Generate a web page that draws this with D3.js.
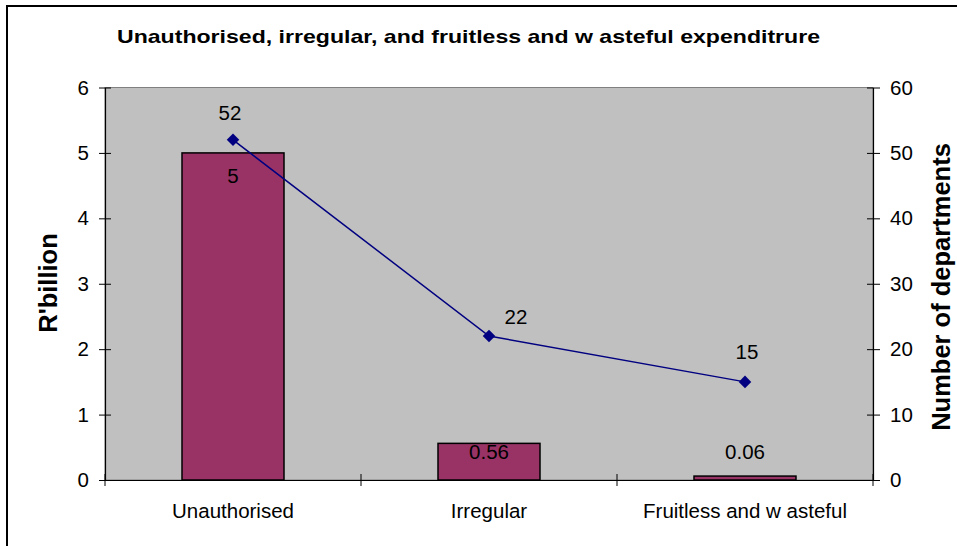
<!DOCTYPE html>
<html><head><meta charset="utf-8">
<script src="https://cdn.jsdelivr.net/npm/d3@7"></script>
<style>body{margin:0;background:#fff}svg{display:block;font-family:Arial,"Liberation Sans",sans-serif}</style>
</head><body>
<svg id="c" width="957" height="546"></svg>
<script>
const categories = ["Unauthorised", "Irregular", "Fruitless and w asteful"];
const amounts = [5, 0.56, 0.06];
const amountLabels = ["5", "0.56", "0.06"];
const departments = [52, 22, 15];
const leftTicks = [0, 1, 2, 3, 4, 5, 6];
const rightTicks = [0, 10, 20, 30, 40, 50, 60];

const FONT = "Arial, 'Liberation Sans', sans-serif";
const svg = d3.select("#c");
const L = 105, R = 873, T = 87.5, B = 480;

svg.append("rect").attr("x", 7).attr("y", 6).attr("width", 1000).attr("height", 600)
  .attr("fill", "#fff").attr("stroke", "#000").attr("stroke-width", 2);

svg.append("text").attr("x", 468.5).attr("y", 43).attr("text-anchor", "middle")
  .attr("font-weight", "bold").attr("font-size", 19).attr("font-family", FONT)
  .text("Unauthorised, irregular, and fruitless and w asteful expenditrure")
  .attr("textLength", 703).attr("lengthAdjust", "spacingAndGlyphs");

const x = d3.scaleBand().domain(categories).range([L, R]).paddingInner(0).paddingOuter(0);
const y = d3.scaleLinear().domain([0, 6]).range([B, T]);
const y2 = d3.scaleLinear().domain([0, 60]).range([B, T]);

svg.append("rect").attr("x", L).attr("y", T).attr("width", R - L).attr("height", B - T)
  .attr("fill", "#C0C0C0").attr("stroke", "#808080").attr("stroke-width", 1);

const bw = 102;
svg.selectAll(".bar").data(categories).enter().append("rect")
  .attr("x", (d) => x(d) + x.bandwidth() / 2 - bw / 2)
  .attr("y", (d, i) => y(amounts[i]))
  .attr("width", bw)
  .attr("height", (d, i) => B - y(amounts[i]))
  .attr("fill", "#993366").attr("stroke", "#000").attr("stroke-width", 1.5);

// axes
const fs = 20.5;
const gl = svg.append("g").attr("transform", `translate(${L},0)`)
  .call(d3.axisLeft(y).tickValues(leftTicks).tickFormat(d3.format("d")).tickSize(6).tickSizeOuter(0).tickPadding(10));
gl.selectAll(".tick line").attr("x2", -6).attr("x1", 6);
const gr = svg.append("g").attr("transform", `translate(${R},0)`)
  .call(d3.axisRight(y2).tickValues(rightTicks).tickFormat(d3.format("d")).tickSize(7).tickSizeOuter(0).tickPadding(10));
gr.selectAll(".tick line").attr("x1", -6);
const gb = svg.append("g").attr("transform", `translate(0,${B})`)
  .call(d3.axisBottom(x).tickSize(0).tickPadding(23));
[gl, gr, gb].forEach(g => {
  g.attr("font-size", fs).attr("font-family", FONT);
  g.selectAll("text").attr("font-size", fs).attr("font-family", FONT).attr("fill", "#000");
  g.select(".domain").attr("stroke", "#000").attr("stroke-width", 1.2);
  g.selectAll(".tick line").attr("stroke", "#000");
});
// category separator ticks
const seps = d3.range(categories.length + 1).map(i => L + i * x.bandwidth());
svg.selectAll(".sep").data(seps).enter().append("line")
  .attr("x1", d => d).attr("x2", d => d).attr("y1", B - 6).attr("y2", B + 6)
  .attr("stroke", "#000").attr("stroke-width", 1);

// line
const cx = (d) => x(d) + x.bandwidth() / 2;
svg.append("path").datum(categories)
  .attr("d", d3.line().x(cx).y((d, i) => y2(departments[i])))
  .attr("fill", "none").attr("stroke", "#000080").attr("stroke-width", 1.5);
svg.selectAll(".mk").data(categories).enter().append("path")
  .attr("transform", (d, i) => `translate(${cx(d)},${y2(departments[i])})`)
  .attr("d", d3.symbol().type(d3.symbolDiamond2).size(100))
  .attr("fill", "#000080");

// labels
const dlDx = [-3, 27, 2], dlDy = [-20, -12, -22.5];
svg.selectAll(".dl").data(categories).enter().append("text")
  .attr("x", (d, i) => cx(d) + dlDx[i])
  .attr("y", (d, i) => y2(departments[i]) + dlDy[i])
  .attr("text-anchor", "middle").attr("font-size", fs).attr("font-family", FONT).text((d, i) => departments[i]);
svg.selectAll(".al").data(categories).enter().append("text")
  .attr("x", (d) => cx(d))
  .attr("y", (d, i) => i === 0 ? y(amounts[i]) + 30.5 : 459)
  .attr("text-anchor", "middle").attr("font-size", fs).attr("font-family", FONT).text((d, i) => amountLabels[i]);

svg.append("text").attr("transform", "translate(57,283) rotate(-90)").attr("text-anchor", "middle")
  .attr("font-weight", "bold").attr("font-size", 25.5).attr("font-family", FONT).text("R'billion");
svg.append("text").attr("transform", "translate(950,287) rotate(-90)").attr("text-anchor", "middle")
  .attr("font-weight", "bold").attr("font-size", 25.5).attr("font-family", FONT).text("Number of departments");
</script>
</body></html>
